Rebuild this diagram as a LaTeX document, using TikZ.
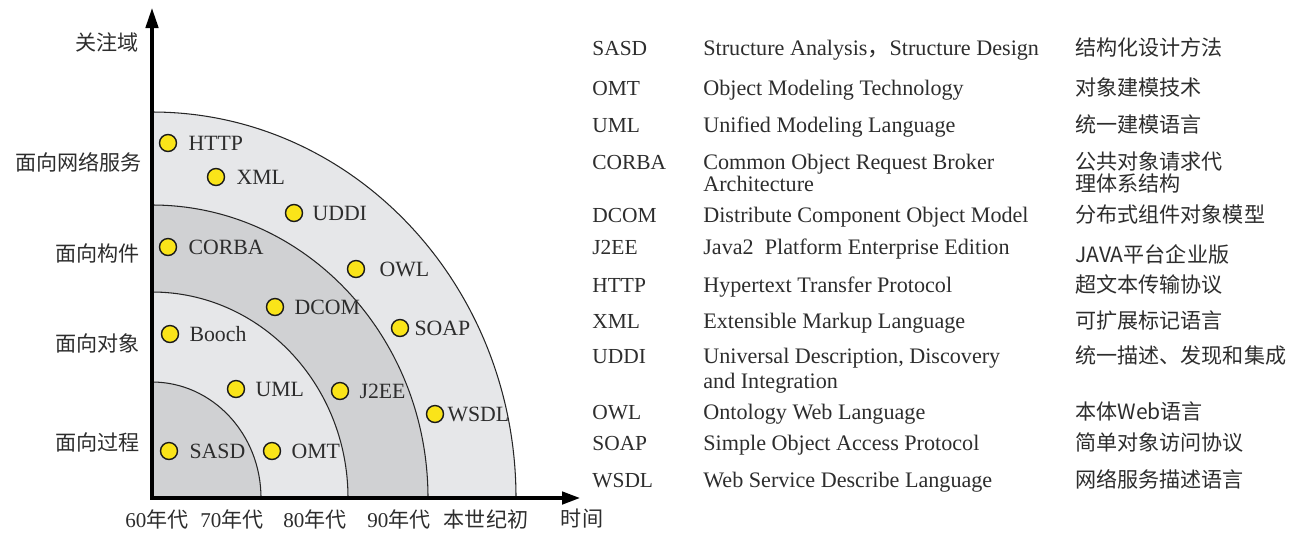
\documentclass[tikz,border=0pt]{standalone}
\usepackage{fontspec}
\setmainfont{Liberation Serif}
\newfontfamily\cjk{Noto Sans CJK SC}
\usepackage{xcolor}
\usepackage{tikz}
\usetikzlibrary{positioning,arrows.meta}
\definecolor{BandLight}{RGB}{230,231,233}
\definecolor{BandDark}{RGB}{208,209,211}
\definecolor{DotYellow}{RGB}{250,228,25}
\definecolor{TextGray}{RGB}{45,45,45}
\tikzset{
    band/.style={draw=black!85, line width=0.6pt},
    axisline/.style={line width=1.8pt, line join=miter,
        {Triangle[length=0.4cm,width=0.25cm]}-{Triangle[length=0.36cm,width=0.25cm]}},
    techdot/.style={circle, draw=black!90, fill=DotYellow, line width=0.8pt, minimum size=0.34cm, inner sep=0pt},
    techlabel/.style={inner sep=0pt, text=TextGray, font=\fontsize{12.4}{14}\selectfont, text height=8pt, text depth=0pt},
    domainlabel/.style={anchor=east, inner sep=0pt, text=TextGray, font=\cjk\fontsize{12}{14}\selectfont},
    eralabel/.style={inner sep=0pt, text=TextGray, font=\fontsize{12}{14}\selectfont},
    abbr/.style={anchor=base west, inner sep=0pt, text=TextGray, font=\fontsize{12.2}{14}\selectfont},
    fullname/.style={anchor=base west, inner sep=0pt, text=TextGray, font=\fontsize{12.6}{14}\selectfont},
    zhname/.style={anchor=base west, inner sep=0pt, text=TextGray, font=\cjk\fontsize{12}{14}\selectfont}
}
\begin{document}
\begin{tikzpicture}[x=0.02cm, y=0.02cm, node distance=0.22cm]
    \useasboundingbox (0,0) rectangle (1301,-532);
    % bands
    \coordinate (O) at (152,-498);
    \filldraw[band, fill=BandLight] (O) -- ++(364,0) arc[start angle=0, end angle=90, x radius=364, y radius=386] -- cycle;
    \filldraw[band, fill=BandDark] (O) -- ++(276,0) arc[start angle=0, end angle=90, x radius=276, y radius=293] -- cycle;
    \filldraw[band, fill=BandLight] (O) -- ++(196,0) arc[start angle=0, end angle=90, x radius=196, y radius=206] -- cycle;
    \filldraw[band, fill=BandDark] (O) -- ++(109,0) arc[start angle=0, end angle=90, x radius=109, y radius=116] -- cycle;
    % axes
    \coordinate (ytip) at (152,-8);
    \coordinate (xtip) at (580,-498);
    \draw[axisline] (ytip) -- (O) -- (xtip);
    % technologies
    \node[techdot] (http) at (168,-143) {};
    \node[techlabel, right=of http] (httptxt) {HTTP};
    \node[techdot] (xml) at (216,-177) {};
    \node[techlabel, right=of xml] (xmltxt) {XML};
    \node[techdot] (uddi) at (294,-213) {};
    \node[techlabel, right=0.18cm of uddi] (udditxt) {UDDI};
    \node[techdot] (corba) at (168,-247) {};
    \node[techlabel, right=of corba] (corbatxt) {CORBA};
    \node[techdot] (owl) at (356,-269) {};
    \node[techlabel, right=0.28cm of owl] (owltxt) {OWL};
    \node[techdot] (dcom) at (275,-307) {};
    \node[techlabel, right=0.2cm of dcom] (dcomtxt) {DCOM};
    \node[techdot] (booch) at (170,-334) {};
    \node[techlabel, right=0.2cm of booch] (boochtxt) {Booch};
    \node[techdot] (soap) at (400,-328) {};
    \node[techlabel, right=0.1cm of soap] (soaptxt) {SOAP};
    \node[techdot] (uml) at (236,-389) {};
    \node[techlabel, right=0.2cm of uml] (umltxt) {UML};
    \node[techdot] (jee) at (340,-391) {};
    \node[techlabel, right=0.2cm of jee] (jeetxt) {J2EE};
    \node[techdot] (wsdl) at (435,-414) {};
    \node[techlabel, right=0.06cm of wsdl] (wsdltxt) {WSDL};
    \node[techdot] (sasd) at (169,-451) {};
    \node[techlabel, right=of sasd] (sasdtxt) {SASD};
    \node[techdot] (omt) at (272,-451) {};
    \node[techlabel, right=0.2cm of omt] (omttxt) {OMT};
    % axis labels
    \node[domainlabel] (focus) at (139,-42) {关注域};
    \node[domainlabel] (netsvc) at (142,-162) {面向网络服务};
    \node[domainlabel] (comp) at (140,-253) {面向构件};
    \node[domainlabel] (obj) at (140,-343) {面向对象};
    \node[domainlabel] (proc) at (140,-442) {面向过程};
    \node[eralabel] (era60) at (157,-519) {60{\cjk 年代}};
    \node[eralabel] (era70) at (232,-519) {70{\cjk 年代}};
    \node[eralabel] (era80) at (315,-519) {80{\cjk 年代}};
    \node[eralabel] (era90) at (399,-519) {90{\cjk 年代}};
    \node[eralabel] (era00) at (486,-519) {\cjk 本世纪初};
    \node[eralabel] (time) at (582,-519) {\cjk 时间};
    % glossary
    \node[abbr] (gsasd) at (592,-55) {SASD};
    \node[fullname] (gsasden) at (703,-55) {Structure Analysis{\cjk ，}Structure Design};
    \node[zhname] (gsasdzh) at (1075,-55) {结构化设计方法};
    \node[abbr] (gomt) at (592,-95) {OMT};
    \node[fullname] (gomten) at (703,-95) {Object Modeling Technology};
    \node[zhname] (gomtzh) at (1075,-95) {对象建模技术};
    \node[abbr] (guml) at (592,-132) {UML};
    \node[fullname] (gumlen) at (703,-132) {Unified Modeling Language};
    \node[zhname] (gumlzh) at (1075,-132) {统一建模语言};
    \node[abbr] (gcorba) at (592,-169) {CORBA};
    \node[fullname] (gcorbaen) at (703,-169) {Common Object Request Broker};
    \node[fullname] (gcorbaen2) at (703,-191) {Architecture};
    \node[zhname] (gcorbazh) at (1075,-169) {公共对象请求代};
    \node[zhname] (gcorbazh2) at (1075,-191) {理体系结构};
    \node[abbr] (gdcom) at (592,-222) {DCOM};
    \node[fullname] (gdcomen) at (703,-222) {Distribute Component Object Model};
    \node[zhname] (gdcomzh) at (1075,-222) {分布式组件对象模型};
    \node[abbr] (gjee) at (592,-254) {J2EE};
    \node[fullname] (gjeeen) at (703,-254) {Java2\ \ Platform Enterprise Edition};
    \node[zhname] (gjeezh) at (1075,-262) {JAVA平台企业版};
    \node[abbr] (ghttp) at (592,-292) {HTTP};
    \node[fullname] (ghttpen) at (703,-292) {Hypertext Transfer Protocol};
    \node[zhname] (ghttpzh) at (1075,-292) {超文本传输协议};
    \node[abbr] (gxml) at (592,-328) {XML};
    \node[fullname] (gxmlen) at (703,-328) {Extensible Markup Language};
    \node[zhname] (gxmlzh) at (1075,-328) {可扩展标记语言};
    \node[abbr] (guddi) at (592,-363) {UDDI};
    \node[fullname] (guddien) at (703,-363) {Universal Description, Discovery};
    \node[fullname] (guddien2) at (703,-388) {and Integration};
    \node[zhname] (guddizh) at (1075,-363) {统一描述、发现和集成};
    \node[abbr] (gowl) at (592,-419) {OWL};
    \node[fullname] (gowlen) at (703,-419) {Ontology Web Language};
    \node[zhname] (gowlzh) at (1075,-419) {本体Web语言};
    \node[abbr] (gsoap) at (592,-450) {SOAP};
    \node[fullname] (gsoapen) at (703,-450) {Simple Object Access Protocol};
    \node[zhname] (gsoapzh) at (1075,-450) {简单对象访问协议};
    \node[abbr] (gwsdl) at (592,-487) {WSDL};
    \node[fullname] (gwsdlen) at (703,-487) {Web Service Describe Language};
    \node[zhname] (gwsdlzh) at (1075,-487) {网络服务描述语言};
\end{tikzpicture}
\end{document}
